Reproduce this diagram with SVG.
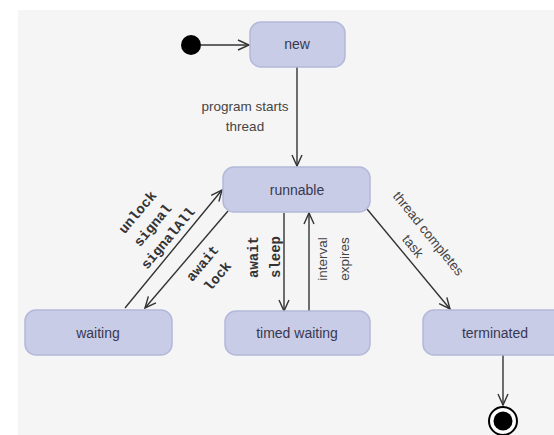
<svg xmlns="http://www.w3.org/2000/svg" width="554" height="435" viewBox="0 0 554 435">
<defs>
<marker id="open" markerUnits="userSpaceOnUse" markerWidth="16" markerHeight="16" refX="12" refY="8" orient="auto">
<path d="M1,3 L12,8 L1,13" fill="none" stroke="#333" stroke-width="1.4"/>
</marker>
<style>
.node rect{fill:#c9cce7;stroke:#b4b8d9;stroke-width:1.5}
.nt{font-family:"Liberation Sans",Arial,sans-serif;font-size:14px;fill:#383850;text-anchor:middle}
.lb{font-family:"Liberation Sans",Arial,sans-serif;font-size:13.5px;fill:#444;text-anchor:middle}
.mono{font-family:"Liberation Mono","DejaVu Sans Mono",monospace;font-size:14px;font-weight:bold;fill:#333;text-anchor:middle}
.edge{stroke:#333;stroke-width:1.4;fill:none;marker-end:url(#open)}
</style>
</defs>
<rect width="554" height="435" fill="#ffffff"/>
<rect x="18" y="10" width="536" height="425" fill="#f5f5f6"/>

<g id="connectors">
<line class="edge" x1="201" y1="45" x2="249" y2="45"/>
<line class="edge" x1="297" y1="67" x2="297" y2="166"/>
<line class="edge" x1="125" y1="308" x2="222" y2="190"/>
<line class="edge" x1="228" y1="211" x2="145" y2="308"/>
<line class="edge" x1="284" y1="213" x2="284" y2="311"/>
<line class="edge" x1="309" y1="311" x2="309" y2="213"/>
<line class="edge" x1="367" y1="209" x2="450" y2="309"/>
<line class="edge" x1="503" y1="355" x2="503" y2="405"/>
</g>

<g id="labels">
<text class="lb" x="245" y="111">program starts</text>
<text class="lb" x="245" y="131">thread</text>
<g transform="translate(137,212) rotate(-50)">
<text class="mono" x="0" y="5">unlock</text>
<text class="mono" x="0" y="25">signal</text>
<text class="mono" x="0" y="45">signalAll</text>
</g>
<g transform="translate(202,263) rotate(-50)">
<text class="mono" x="0" y="5">await</text>
<text class="mono" x="0" y="25">lock</text>
</g>
<g transform="translate(253,257) rotate(-90)">
<text class="mono" x="0" y="5">await</text>
<text class="mono" x="0" y="27">sleep</text>
</g>
<g transform="translate(323,259) rotate(-90)">
<text class="lb" x="0" y="4">interval</text>
<text class="lb" x="0" y="26">expires</text>
</g>
<g transform="translate(428,234) rotate(51)">
<text class="lb" x="0" y="4">thread completes</text>
<text class="lb" x="0" y="24">task</text>
</g>
</g>

<g id="initial"><circle cx="191" cy="45" r="10" fill="#000"/></g>
<g id="new" class="node"><rect x="250" y="22" width="95" height="45" rx="11"/><text class="nt" x="297" y="49">new</text></g>
<g id="runnable" class="node"><rect x="223" y="167" width="147" height="45" rx="11"/><text class="nt" x="297" y="195">runnable</text></g>
<g id="waiting" class="node"><rect x="25" y="310" width="147" height="45" rx="11"/><text class="nt" x="98" y="338">waiting</text></g>
<g id="timed_waiting" class="node"><rect x="225" y="311" width="145" height="44" rx="11"/><text class="nt" x="297" y="338">timed waiting</text></g>
<g id="terminated" class="node"><rect x="423" y="310" width="150" height="45" rx="11"/><text class="nt" x="495" y="338">terminated</text></g>
<g id="final"><circle cx="503" cy="421" r="14" fill="#fff" stroke="#000" stroke-width="2"/><circle cx="503" cy="421" r="9.5" fill="#000"/></g>
</svg>
